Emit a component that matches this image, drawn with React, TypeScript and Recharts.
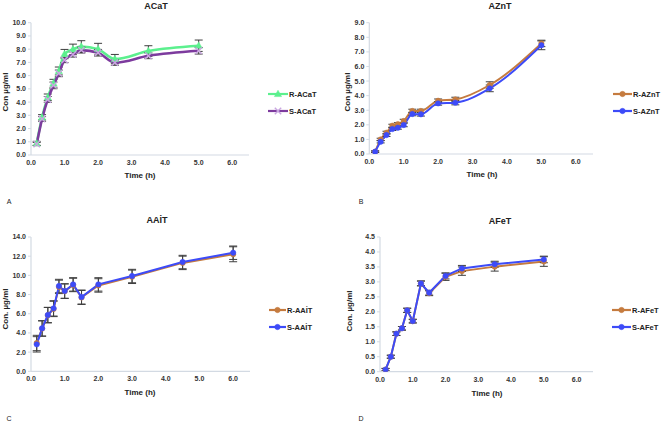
import React from "react";
import { LineChart, Line, XAxis, YAxis, ErrorBar, Legend } from "recharts";

// ---------- data ----------
const timesA = [0.17, 0.33, 0.5, 0.67, 0.83, 1.0, 1.25, 1.5, 2.0, 2.5, 3.5, 5.0];
const rACaT = [0.88, 2.85, 4.36, 5.42, 6.35, 7.63, 7.98, 8.19, 8.0, 7.25, 7.86, 8.26];
const rACaTErr = [0.15, 0.2, 0.25, 0.3, 0.3, 0.35, 0.4, 0.45, 0.44, 0.35, 0.4, 0.43];
const sACaT = [0.83, 2.72, 4.2, 5.26, 6.17, 7.18, 7.6, 7.93, 7.73, 6.98, 7.5, 7.88];
const sACaTErr = [0.12, 0.18, 0.22, 0.25, 0.25, 0.2, 0.2, 0.22, 0.25, 0.2, 0.22, 0.25];

const timesB = [0.17, 0.33, 0.5, 0.67, 0.83, 1.0, 1.25, 1.5, 2.0, 2.5, 3.5, 5.0];
const rAZnT = [0.16, 1.0, 1.46, 1.94, 2.05, 2.26, 2.95, 2.95, 3.65, 3.74, 4.73, 7.58];
const rAZnTErr = [0.05, 0.08, 0.1, 0.1, 0.1, 0.12, 0.12, 0.12, 0.12, 0.15, 0.22, 0.22];
const sAZnT = [0.16, 0.84, 1.3, 1.71, 1.8, 1.99, 2.74, 2.72, 3.47, 3.52, 4.5, 7.45];
const sAZnTErr = [0.05, 0.08, 0.1, 0.1, 0.1, 0.12, 0.12, 0.12, 0.12, 0.15, 0.23, 0.3];

const timesC = [0.17, 0.33, 0.5, 0.67, 0.83, 1.0, 1.25, 1.5, 2.0, 3.0, 4.5, 6.0];
const rAAlT = [2.95, 4.45, 5.85, 6.5, 8.8, 8.35, 9.0, 7.7, 8.95, 9.85, 11.3, 12.2];
const rAAlTErr = [0.8, 0.8, 0.8, 0.8, 0.7, 0.75, 0.7, 0.73, 0.7, 0.7, 0.7, 0.78];
const sAAlT = [2.81, 4.48, 5.87, 6.56, 8.89, 8.37, 9.06, 7.74, 9.06, 9.93, 11.39, 12.36];
const sAAlTErr = [0.8, 0.8, 0.8, 0.8, 0.7, 0.76, 0.7, 0.73, 0.7, 0.7, 0.7, 0.7];

const timesD = [0.17, 0.33, 0.5, 0.67, 0.83, 1.0, 1.25, 1.5, 2.0, 2.5, 3.5, 5.0];
const rAFeT = [0.07, 0.5, 1.27, 1.45, 2.05, 1.69, 2.95, 2.62, 3.17, 3.36, 3.51, 3.68];
const rAFeTErr = [0.04, 0.05, 0.06, 0.06, 0.07, 0.06, 0.08, 0.08, 0.12, 0.14, 0.15, 0.16];
const sAFeT = [0.07, 0.5, 1.27, 1.45, 2.05, 1.69, 2.95, 2.64, 3.2, 3.45, 3.59, 3.75];
const sAFeTErr = [0.04, 0.05, 0.06, 0.06, 0.07, 0.06, 0.08, 0.08, 0.1, 0.1, 0.1, 0.11];

const xTicks = [0, 1, 2, 3, 4, 5, 6];
const yTicksA = [0, 1, 2, 3, 4, 5, 6, 7, 8, 9, 10];
const yTicksB = [0, 1, 2, 3, 4, 5, 6, 7, 8, 9];
const yTicksC = [0, 2, 4, 6, 8, 10, 12, 14];
const yTicksD = [0, 0.5, 1, 1.5, 2, 2.5, 3, 3.5, 4, 4.5];

const build = (t: number[], r: number[], re: number[], s: number[], se: number[]) =>
  t.map((v, i) => ({ t: v, r: r[i], rErr: re[i], s: s[i], sErr: se[i] }));

// ---------- styling ----------
const FONT = "'Liberation Sans', Arial, sans-serif";
const AXIS = "#D3DAE3";
const GREEN = "#5CF08E";
const PURPLE = "#7D3B9E";
const BROWN = "#C57B3F";
const BLUE = "#3D4BF8";
const ERR = "#3F3F3F";

const tickStyle = { fontFamily: FONT, fontSize: 7, fontWeight: 700, fill: "#333" };

type Marker = "tri" | "x" | "circle";

const drawMarker = (m: Marker, color: string, cx: number, cy: number, key: string) => {
  if (m === "tri") {
    return (
      <path key={key} d={`M${cx},${cy - 3.8}L${cx + 3.6},${cy + 2.6}L${cx - 3.6},${cy + 2.6}Z`} fill={color} stroke={color} strokeWidth={0.5} />
    );
  }
  if (m === "x") {
    return (
      <g key={key}>
        <path d={`M${cx - 3.2},${cy - 3.2}L${cx + 3.2},${cy + 3.2}M${cx - 3.2},${cy + 3.2}L${cx + 3.2},${cy - 3.2}`} stroke="#C9A6E0" strokeWidth={1.4} />
      </g>
    );
  }
  return <circle key={key} cx={cx} cy={cy} r={2.7} fill={color} stroke={color} strokeWidth={0.5} />;
};

const dotFn = (m: Marker, color: string, tag: string) => (props: any) => {
  const { cx, cy, index } = props;
  if (cx == null || cy == null) return <g key={`${tag}${index}`} />;
  return drawMarker(m, color, cx, cy, `${tag}${index}`);
};

type LegendItem = { label: string; color: string; marker: Marker };

const makeLegend = (items: LegendItem[], lineW: number) => () => (
  <div>
    {items.map((it, i) => (
      <div key={i} style={{ display: "flex", alignItems: "center", height: 17 }}>
        <svg width={lineW} height={10} style={{ display: "block" }}>
          <line x1={0} y1={5} x2={lineW} y2={5} stroke={it.color} strokeWidth={2.2} />
          {drawMarker(it.marker, it.color, lineW / 2, 5, "m")}
        </svg>
        <span style={{ fontFamily: FONT, fontSize: 7.5, fontWeight: 700, color: "#222", marginLeft: 1, whiteSpace: "nowrap" }}>
          {it.label}
        </span>
      </div>
    ))}
  </div>
);

type PanelProps = {
  left: number;
  top: number;
  data: any[];
  yMax: number;
  yTicks: number[];
  margin: { top: number; right: number; bottom: number; left: number };
  curve: "monotone" | "linear";
  rColor: string;
  sColor: string;
  rMarker: Marker;
  sMarker: Marker;
  rName: string;
  sName: string;
  legendLeft: number;
  legendTop: number;
  legendLineW: number;
  strokeW: number;
};

const Panel = (p: PanelProps) => (
  <div style={{ position: "absolute", left: p.left, top: p.top, width: 330, height: 211 }}>
    <LineChart width={330} height={211} data={p.data} margin={p.margin}>
      <XAxis
        type="number"
        dataKey="t"
        domain={[0, 6.5]}
        ticks={xTicks}
        tickFormatter={(v: number) => v.toFixed(1)}
        tick={tickStyle}
        tickLine={false}
        tickSize={3}
        tickMargin={2}
        height={20}
        axisLine={{ stroke: AXIS, strokeWidth: 1.2 }}
        allowDataOverflow
      />
      <YAxis
        type="number"
        domain={[0, p.yMax]}
        ticks={p.yTicks}
        tickFormatter={(v: number) => v.toFixed(1)}
        tick={tickStyle}
        tickLine={{ stroke: AXIS }}
        tickSize={3}
        tickMargin={2}
        width={28}
        axisLine={{ stroke: AXIS, strokeWidth: 1.2 }}
        allowDataOverflow
      />
      <Line
        type={p.curve}
        dataKey="r"
        stroke={p.rColor}
        strokeWidth={p.strokeW}
        dot={dotFn(p.rMarker, p.rColor, "r")}
        activeDot={false}
        isAnimationActive={false}
      >
        <ErrorBar dataKey="rErr" direction="y" width={4} stroke={ERR} strokeWidth={1} />
      </Line>
      <Line
        type={p.curve}
        dataKey="s"
        stroke={p.sColor}
        strokeWidth={p.strokeW}
        dot={dotFn(p.sMarker, p.sColor, "s")}
        activeDot={false}
        isAnimationActive={false}
      >
        <ErrorBar dataKey="sErr" direction="y" width={4} stroke={ERR} strokeWidth={1} />
      </Line>
      <Legend
        layout="vertical"
        align="center"
        verticalAlign="middle"
        wrapperStyle={{ left: p.legendLeft, top: p.legendTop, width: 70 }}
        content={makeLegend(
          [
            { label: p.rName, color: p.rColor, marker: p.rMarker },
            { label: p.sName, color: p.sColor, marker: p.sMarker },
          ],
          p.legendLineW
        )}
      />
    </LineChart>
  </div>
);

const Txt = ({ x, y, children, size, bold = true, rotate = false }: any) => (
  <div
    style={{
      position: "absolute",
      left: x,
      top: y,
      transform: `translate(-50%, -50%)${rotate ? " rotate(-90deg)" : ""}`,
      fontFamily: FONT,
      fontSize: size,
      fontWeight: bold ? 700 : 400,
      color: "#222",
      whiteSpace: "nowrap",
      lineHeight: 1,
    }}
  >
    {children}
  </div>
);

export default function App() {
  const dA = build(timesA, rACaT, rACaTErr, sACaT, sACaTErr);
  const dB = build(timesB, rAZnT, rAZnTErr, sAZnT, sAZnTErr);
  const dC = build(timesC, rAAlT, rAAlTErr, sAAlT, sAAlTErr);
  const dD = build(timesD, rAFeT, rAFeTErr, sAFeT, sAFeTErr);
  return (
    <div style={{ position: "absolute", left: 0, top: 0, width: 661, height: 422, background: "#fff", overflow: "hidden" }}>
      <Panel
        left={0}
        top={0}
        data={dA}
        yMax={10}
        yTicks={yTicksA}
        margin={{ top: 22.7, right: 81, bottom: 36, left: 3 }}
        curve="monotone"
        rColor={GREEN}
        sColor={PURPLE}
        rMarker="tri"
        sMarker="x"
        rName="R-ACaT"
        sName="S-ACaT"
        legendLeft={268}
        legendTop={85.5}
        legendLineW={20}
        strokeW={2.6}
      />
      <Panel
        left={330}
        top={0}
        data={dB}
        yMax={9}
        yTicks={yTicksB}
        margin={{ top: 22.7, right: 67, bottom: 37, left: 11.3 }}
        curve="monotone"
        rColor={BROWN}
        sColor={BLUE}
        rMarker="circle"
        sMarker="circle"
        rName="R-AZnT"
        sName="S-AZnT"
        legendLeft={283}
        legendTop={85.5}
        legendLineW={19}
        strokeW={2}
      />
      <Panel
        left={0}
        top={211}
        data={dC}
        yMax={14}
        yTicks={yTicksC}
        margin={{ top: 26, right: 80, bottom: 30.7, left: 3 }}
        curve="linear"
        rColor={BROWN}
        sColor={BLUE}
        rMarker="circle"
        sMarker="circle"
        rName="R-AAİT"
        sName="S-AAİT"
        legendLeft={269}
        legendTop={90.5}
        legendLineW={17}
        strokeW={2}
      />
      <Panel
        left={330}
        top={211}
        data={dD}
        yMax={4.5}
        yTicks={yTicksD}
        margin={{ top: 26, right: 67, bottom: 30.3, left: 22 }}
        curve="linear"
        rColor={BROWN}
        sColor={BLUE}
        rMarker="circle"
        sMarker="circle"
        rName="R-AFeT"
        sName="S-AFeT"
        legendLeft={282}
        legendTop={90.5}
        legendLineW={19}
        strokeW={2}
      />

      {/* titles */}
      <Txt x={156} y={6} size={9}>ACaT</Txt>
      <Txt x={500} y={6} size={9}>AZnT</Txt>
      <Txt x={157} y={220} size={9}>AAİT</Txt>
      <Txt x={500} y={221} size={9}>AFeT</Txt>

      {/* axis titles */}
      <Txt x={140} y={176} size={8}>Time (h)</Txt>
      <Txt x={482} y={175} size={8}>Time (h)</Txt>
      <Txt x={140} y={393} size={8}>Time (h)</Txt>
      <Txt x={487} y={394} size={8}>Time (h)</Txt>

      <Txt x={6} y={92} size={8} rotate>Con µg/ml</Txt>
      <Txt x={348} y={92} size={8} rotate>Con µg/ml</Txt>
      <Txt x={6} y={309} size={8} rotate>Con. µg/ml</Txt>
      <Txt x={350} y={311} size={8} rotate>Con. µg/ml</Txt>

      {/* panel letters */}
      <Txt x={9} y={201} size={7} bold={false}>A</Txt>
      <Txt x={361} y={201} size={7} bold={false}>B</Txt>
      <Txt x={9} y={418} size={7} bold={false}>C</Txt>
      <Txt x={361} y={418} size={7} bold={false}>D</Txt>
    </div>
  );
}
